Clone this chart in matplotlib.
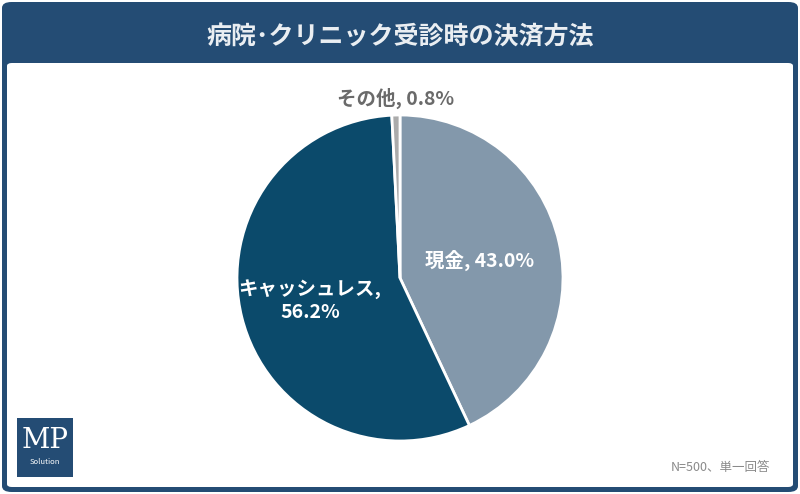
import numpy as np
import matplotlib.pyplot as plt
from matplotlib.patches import FancyBboxPatch

plt.rcParams['font.family'] = ['Noto Sans CJK JP', 'DejaVu Sans']

TITLE = '病院･クリニック受診時の決済方法'
labels = ['現金', 'キャッシュレス', 'その他']
shares = [43.0, 56.2, 0.8]
label_texts = ['現金, 43.0%', 'キャッシュレス,\n56.2%', 'その他, 0.8%']
NOTE = 'N=500、単一回答'

NAVY = '#244c74'
colors = ['#8398ab', '#0b4a6b', '#ababab']
text_colors = ['white', 'white', '#6a6a6a']
label_r = [0.5, 0.57, 1.1]

W, H = 800, 494
fig = plt.figure(figsize=(8, 4.94), dpi=100, facecolor='white')

# outer frame and white panel
fig.patches.append(FancyBboxPatch((2 / W, 2 / H), 796 / W, 490 / H,
                                  boxstyle='round,pad=0,rounding_size=0.012',
                                  transform=fig.transFigure, fc=NAVY, ec='none',
                                  zorder=-2))
fig.patches.append(FancyBboxPatch((7 / W, 7 / H), 786 / W, 424 / H,
                                  boxstyle='round,pad=0,rounding_size=0.006',
                                  transform=fig.transFigure, fc='white', ec='none',
                                  zorder=-1))
fig.text(0.5, 1 - 38 / H, TITLE, ha='center', va='center', color='#eaeef2',
         fontsize=18, fontweight='bold')

# pie
cx, cy, r = 400, 278, 163
ax = fig.add_axes([(cx - r) / W, (H - cy - r) / H, 2 * r / W, 2 * r / H])
wedges, _ = ax.pie(shares, colors=colors, startangle=90, counterclock=False,
                   wedgeprops=dict(edgecolor='white', linewidth=2))
ax.set_xlim(-1, 1)
ax.set_ylim(-1, 1)
ax.set_aspect('auto')
ax.axis('off')

for w, txt, tc, lr in zip(wedges, label_texts, text_colors, label_r):
    mid = np.deg2rad((w.theta1 + w.theta2) / 2)
    x, y = lr * np.cos(mid), lr * np.sin(mid)
    ax.text(x, y, txt, ha='center', va='center', color=tc, fontsize=14,
            fontweight='bold', linespacing=1.25)

# logo
fig.add_artist(FancyBboxPatch((17 / W, (H - 477) / H), 56 / W, 59 / H,
                              boxstyle='square,pad=0', transform=fig.transFigure,
                              fc=NAVY, ec='none'))
fig.text(45 / W, 1 - 440 / H, 'MP', ha='center', va='center', color='white',
         fontsize=20, family='DejaVu Serif')
fig.text(45 / W, 1 - 462 / H, 'Solution', ha='center', va='center', color='white',
         fontsize=5.5)

fig.text(770 / W, 1 - 467 / H, NOTE, ha='right', va='center', color='#8a8a8a',
         fontsize=9)

fig.savefig('out.png', dpi=100, facecolor=fig.get_facecolor())
